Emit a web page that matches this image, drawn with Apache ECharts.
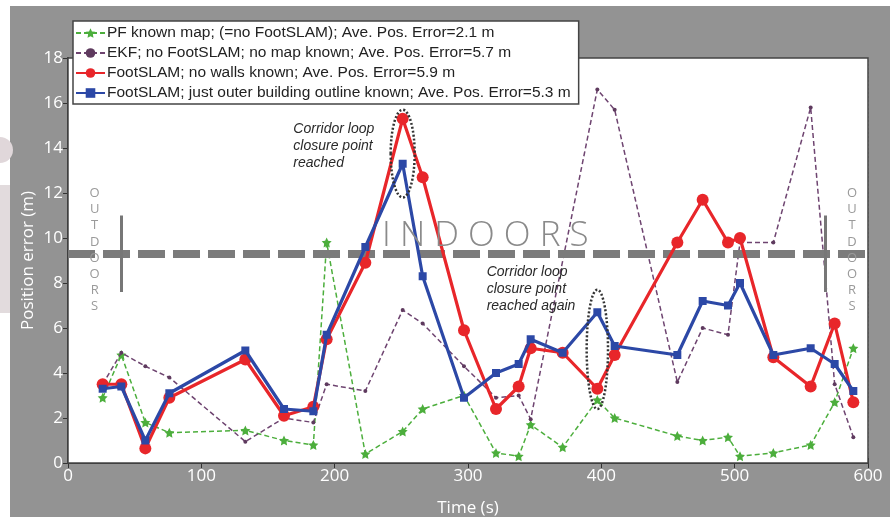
<!DOCTYPE html>
<html><head><meta charset="utf-8">
<script src="https://cdn.jsdelivr.net/npm/echarts@6/dist/echarts.min.js"></script>
<style>html,body{margin:0;padding:0;background:#fff}#c{width:893px;height:519px}</style>
</head><body><div id="c"></div>
<script>
const times = [26,40,58,76,133,162,184,194,223,251,266,297,321,338,347,371,397,410,457,476,495,504,529,557,575,589];
const pfErr = [2.9,4.8,1.8,1.35,1.45,1.0,0.8,9.8,0.4,1.4,2.4,3.0,0.45,0.3,1.7,0.7,2.8,2.0,1.2,1.0,1.15,0.3,0.45,0.8,2.7,5.1];
const ekfErr = [3.5,4.9,4.3,3.8,0.95,2.0,1.8,3.5,3.2,6.8,6.2,4.3,2.9,3.0,1.95,null,16.6,15.7,3.6,6.0,5.7,9.8,9.8,15.8,3.5,1.15];
const slamNoWalls = [3.5,3.5,0.65,2.9,4.6,2.1,2.5,5.5,8.9,15.3,12.7,5.9,2.4,3.4,5.1,4.9,3.3,4.8,9.8,11.7,9.8,10.0,4.7,3.4,6.2,2.7];
const slamOutline = [3.3,3.4,1.0,3.1,5.0,2.4,2.3,5.7,9.6,13.3,8.3,2.9,4.0,4.4,5.5,4.9,6.7,5.2,4.8,7.2,7.0,8.0,4.8,5.1,4.4,3.2];
const seriesNames = [
  'PF known map; (=no FootSLAM); Ave. Pos. Error=2.1 m',
  'EKF; no FootSLAM; no map known; Ave. Pos. Error=5.7 m',
  'FootSLAM; no walls known; Ave. Pos. Error=5.9 m',
  'FootSLAM; just outer building outline known; Ave. Pos. Error=5.3 m'
];
const indoorLevel = 9.3;
const outdoorBars = [40, 568];
const barRange = [7.6, 11];
const loopEllipses = [[242,260,11.8,15.7],[389,405,2.4,7.7]];
const note1 = ['Corridor loop','closure point','reached'];
const note2 = ['Corridor loop','closure point','reached again'];

const pair = arr => times.map((t,i)=> arr[i]==null ? null : [t, arr[i]]).filter(p=>p);
const star = 'path://M0,-10 L2.9,-4 9.5,-3.1 4.7,1.5 5.9,8.1 0,5 -5.9,8.1 -4.7,1.5 -9.5,-3.1 -2.9,-4 Z';
const white = '#ffffff';
const tickFont = {color: white, fontSize: 17, fontFamily: 'Open Sans'};

const chart = echarts.init(document.getElementById('c'), null, {renderer:'canvas'});
const option = {
  animation: false,
  backgroundColor: '#ffffff',
  grid: {left: 68, right: 25, top: 58, bottom: 56, show: true, outerBoundsMode: 'none', containLabel: false,
         backgroundColor: '#ffffff', borderColor: '#444', borderWidth: 1.5, z: 1},
  legend: {
    data: seriesNames, orient: 'vertical', left: 73, top: 21,
    padding: [4, 8, 3, 2], itemGap: 4, itemWidth: 29, itemHeight: 12,
    backgroundColor: '#ffffff', borderColor: '#444', borderWidth: 1.5,
    textStyle: {color: '#222', fontSize: 15.5, lineHeight: 15, fontFamily: 'Liberation Sans', padding: [0,0,0,-3]}, z: 20
  },
  xAxis: [{
    type: 'value', min: 0, max: 600, interval: 100,
    name: 'Time (s)', nameLocation: 'middle', nameGap: 37,
    nameTextStyle: {color: white, fontSize: 17, fontFamily: 'Open Sans'},
    axisLine: {show: true, lineStyle: {color: '#333', width: 2}},
    axisTick: {show: true, inside: true, length: 5, lineStyle: {color: '#333'}},
    axisLabel: Object.assign({margin: 5}, tickFont),
    splitLine: {show: true, lineStyle: {color: '#a8a8a8', type: [2,2], width: 1}}
  },{
    type: 'value', position: 'top', min: 0, max: 600, interval: 100,
    axisLine: {show: false}, axisTick: {show: true, inside: true, length: 5, lineStyle: {color: '#333'}},
    axisLabel: {show: false}, splitLine: {show: false}
  }],
  yAxis: [{
    type: 'value', min: 0, max: 18, interval: 2,
    name: 'Position error (m)', nameLocation: 'middle', nameGap: 31, nameMoveOverlap: false,
    nameTextStyle: {color: white, fontSize: 17, fontFamily: 'Open Sans'},
    axisLine: {show: true, lineStyle: {color: '#333', width: 2}},
    axisTick: {show: true, inside: true, length: 5, lineStyle: {color: '#333'}},
    axisLabel: Object.assign({margin: 5}, tickFont),
    splitLine: {show: true, lineStyle: {color: '#a8a8a8', type: [2,2], width: 1}}
  },{
    type: 'value', position: 'right', min: 0, max: 18, interval: 2,
    axisLine: {show: false}, axisTick: {show: true, inside: true, length: 5, lineStyle: {color: '#333'}},
    axisLabel: {show: false}, splitLine: {show: false}
  }],
  series: [
    {
      name: '_annot', type: 'line', data: [], z: 2, silent: true,
      markLine: {
        silent: true, symbol: 'none', label: {show: false},
        data: [
          {yAxis: indoorLevel, lineStyle: {color: '#7b7b7b', width: 8, type: [27,8]}},
          [{coord: [outdoorBars[0], barRange[0]], lineStyle: {color: '#777', width: 3, type: 'solid'}}, {coord: [outdoorBars[0], barRange[1]]}],
          [{coord: [outdoorBars[1], barRange[0]], lineStyle: {color: '#777', width: 3, type: 'solid'}}, {coord: [outdoorBars[1], barRange[1]]}]
        ]
      }
    },
    {
      name: seriesNames[0], type: 'line', data: pair(pfErr), z: 3,
      symbol: star, symbolSize: 10,
      itemStyle: {color: '#4cae3c'}, lineStyle: {color: '#4cae3c', width: 1.5, type: [5,3]}
    },
    {
      name: seriesNames[1], type: 'line', data: pair(ekfErr), z: 4,
      symbol: 'circle', symbolSize: 4,
      itemStyle: {color: '#5e3a5e'}, lineStyle: {color: '#6e4470', width: 1.5, type: [5,3]}
    },
    {
      name: seriesNames[2], type: 'line', data: pair(slamNoWalls), z: 5,
      symbol: 'circle', symbolSize: 12,
      itemStyle: {color: '#e8262a'}, lineStyle: {color: '#e8262a', width: 3.2}
    },
    {
      name: seriesNames[3], type: 'line', data: pair(slamOutline), z: 6,
      symbol: 'rect', symbolSize: 8,
      itemStyle: {color: '#2c48a6'}, lineStyle: {color: '#2c48a6', width: 3.2}
    }
  ]
};
chart.setOption(option);

const px = (t, v) => chart.convertToPixel({gridIndex: 0}, [t, v]);
const graphics = [];
graphics.push({type: 'rect', z: -10, silent: true, shape: {x: 10, y: 6, width: 880, height: 511}, style: {fill: '#939393'}});
graphics.push({type: 'circle', z: -10, silent: true, shape: {cx: 0, cy: 150, r: 13}, style: {fill: '#e0d7da'}});
graphics.push({type: 'rect', z: -10, silent: true, shape: {x: 0, y: 185, width: 10, height: 128}, style: {fill: '#e2dbdd'}});
loopEllipses.forEach(e => {
  const a = px(e[0], e[3]), b = px(e[1], e[2]);
  graphics.push({type: 'ellipse', z: 10, silent: true,
    shape: {cx: (a[0]+b[0])/2, cy: (a[1]+b[1])/2, rx: (b[0]-a[0])/2, ry: (b[1]-a[1])/2},
    style: {fill: 'none', stroke: '#333', lineWidth: 2.5, lineDash: [2,2]}});
});
const p1 = px(169, 15.2), p2 = px(314, 8.85);
[[p1, note1], [p2, note2]].forEach(([p, lines]) => {
  graphics.push({type: 'text', z: 10, silent: true, x: p[0], y: p[1],
    style: {text: lines.join('\n'), fill: '#2a2a2a', font: 'italic 14px "Liberation Sans"', lineHeight: 17, textAlign: 'left', textVerticalAlign: 'top'}});
});
const pi = px(313, 10.1);
graphics.push({type: 'text', z: 10, silent: true, x: pi[0], y: pi[1],
  style: {text: 'I N D O O R S', fill: '#8a8a8a', font: '300 35px "Open Sans"', textAlign: 'center', textVerticalAlign: 'middle'}});
[[20, 9.47], [588, 9.47]].forEach(([t, v]) => {
  const p = px(t, v);
  graphics.push({type: 'text', z: 10, silent: true, x: p[0], y: p[1],
    style: {text: 'OUTDOORS'.split('').join('\n'), fill: '#9a9a9a', font: '13px "Open Sans"', lineHeight: 16.2, textAlign: 'center', textVerticalAlign: 'middle'}});
});
chart.setOption({graphic: graphics});
</script></body></html>
